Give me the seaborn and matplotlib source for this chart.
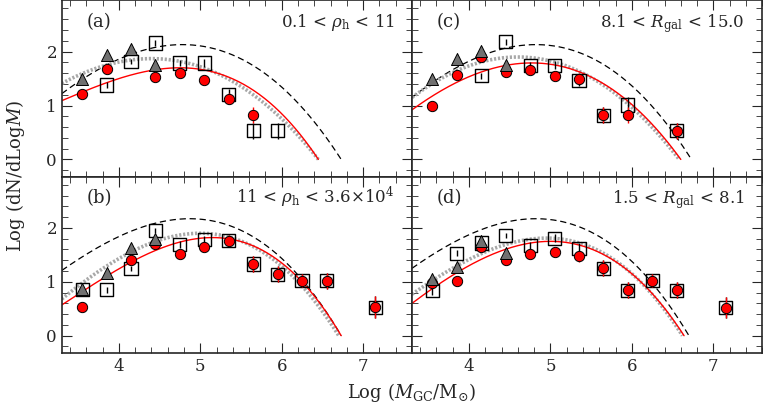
import matplotlib
matplotlib.use('Agg')
import matplotlib.pyplot as plt
from matplotlib.ticker import MultipleLocator
import numpy as np
import pandas as pd
import seaborn as sns

sns.set_style('ticks')
plt.rcParams['font.family'] = ['DejaVu Serif']
plt.rcParams['mathtext.fontset'] = 'dejavuserif'

# --- data ---
bins = [3.55, 3.85, 4.15, 4.45, 4.75, 5.05, 5.35, 5.65, 5.95, 6.25, 6.55, 7.15]
err = [0.08, 0.06, 0.05, 0.05, 0.06, 0.07, 0.10, 0.15, 0.15, 0.12, 0.15, 0.20]

labels = ['(a)', '(b)', '(c)', '(d)']
titles = [r'0.1 < $\rho_{\rm h}$ < 11', r'11 < $\rho_{\rm h}$ < 3.6$\times$10$^4$',
          r'8.1 < $R_{\rm gal}$ < 15.0', r'1.5 < $R_{\rm gal}$ < 8.1']

# red circles (None = no point)
red = [
    [1.22, 1.67, None, 1.52, 1.60, 1.47, 1.13, 0.82, None, None, None, None],
    [0.54, None, 1.40, 1.70, 1.51, 1.64, 1.76, 1.33, 1.14, 1.02, 1.02, 0.53],
    [1.00, 1.57, 1.90, 1.63, 1.66, 1.55, 1.50, 0.82, 0.82, None, 0.53, None],
    [0.97, 1.02, 1.65, 1.40, 1.51, 1.56, 1.47, 1.25, 0.84, 1.02, 0.84, 0.52],
]
tri = [
    [1.50, 1.94, 2.04, 1.75],
    [0.87, 1.17, 1.62, 1.79],
    [1.49, 1.86, 2.02, 1.75],
    [1.06, 1.28, 1.75, 1.53],
]
sq = [
    [None, 1.38, 1.82, 2.16, 1.79, 1.79, 1.20, 0.53, 0.53, None, None, None],
    [0.85, 0.85, 1.25, 1.95, 1.69, 1.78, 1.76, 1.33, 1.14, 1.02, 1.02, 0.53],
    [None, None, 1.55, 2.18, 1.75, 1.75, 1.47, 0.82, 1.01, None, 0.53, None],
    [0.84, 1.53, 1.72, 1.86, 1.67, 1.81, 1.62, 1.25, 0.84, 1.02, 0.84, 0.52],
]
# model curves: (peak x, peak y, y at x=3.3, x where y=0)
red_fit = [(4.75, 1.70, 1.09, 6.45), (5.15, 1.82, 0.57, 6.73),
           (4.77, 1.79, 0.92, 6.60), (5.00, 1.75, 0.60, 6.64)]
gray_fit = [(4.40, 1.87, 1.41, 6.45), (5.00, 1.90, 0.68, 6.70),
            (4.60, 1.90, 1.15, 6.58), (4.95, 1.81, 0.77, 6.62)]
dash_fit = [(4.78, 2.13, 1.22, 6.73), (4.87, 2.17, 1.21, 6.73),
            (4.82, 2.13, 1.15, 6.73), (4.82, 2.17, 1.25, 6.70)]

XMIN, XMAX = 3.3, 7.6


def curve(p):
    xp, yp, yl, x0 = p
    dl, dr = xp - XMIN, x0 - xp
    A = np.array([[dl**2, dl**3], [dr**2, -dr**3]])
    k, q = np.linalg.solve(A, [yp - yl, yp])
    x = np.linspace(XMIN, x0, 300)
    d = x - xp
    return x, yp - k * d**2 + q * d**3


def pts(vals, xs):
    return pd.DataFrame([(x, v) for x, v in zip(xs, vals) if v is not None],
                        columns=['x', 'y'])


fig, axes = plt.subplots(2, 2, figsize=(7.63, 4.08), dpi=100, sharex=True, sharey=True)
fig.subplots_adjust(left=0.081, right=0.999, top=0.999, bottom=0.135, wspace=0, hspace=0)
order = [0, 2, 1, 3]  # a,c top; b,d bottom

for i, ax in zip(order, axes.flat):
    for p, kw in [(dash_fit[i], dict(color='black', ls=(0, (5, 3)), lw=0.9)),
                  (gray_fit[i], dict(color='#a8a8a8', ls=(0, (0.6, 0.5)), lw=2.6)),
                  (red_fit[i], dict(color='red', ls='-', lw=1.0))]:
        cx, cy = curve(p)
        sns.lineplot(x=cx, y=cy, ax=ax, sort=False, **kw)

    s = pts(sq[i], bins)
    es = [err[bins.index(x)] for x in s.x]
    ax.errorbar(s.x, s.y, yerr=es, fmt='none', ecolor='black', elinewidth=1, zorder=3)
    sns.scatterplot(data=s, x='x', y='y', ax=ax, marker='s', s=90, facecolor='none',
                    edgecolor='black', linewidth=1.0, zorder=3)

    r = pts(red[i], bins)
    er = [err[bins.index(x)] for x in r.x]
    ax.errorbar(r.x, r.y, yerr=er, fmt='none', ecolor='red', elinewidth=1, zorder=4)
    sns.scatterplot(data=r, x='x', y='y', ax=ax, marker='o', s=55, color='red',
                    edgecolor='black', linewidth=0.7, zorder=4)

    t = pts(tri[i], bins[:4])
    sns.scatterplot(data=t, x='x', y='y', ax=ax, marker='^', s=75, color='#707070',
                    edgecolor='black', linewidth=0.7, zorder=5)

    ax.text(0.07, 0.85, labels[i], transform=ax.transAxes, fontsize=13)
    ax.text(0.95, 0.85, titles[i], transform=ax.transAxes, fontsize=12, ha='right')

    ax.set_xlim(XMIN, XMAX)
    ax.set_ylim(-0.32, 2.95)
    ax.xaxis.set_major_locator(MultipleLocator(1))
    ax.xaxis.set_minor_locator(MultipleLocator(0.2))
    ax.yaxis.set_major_locator(MultipleLocator(1))
    ax.yaxis.set_minor_locator(MultipleLocator(0.2))
    ax.tick_params(which='both', direction='in', top=True, right=True, labelsize=12)
    ax.tick_params(which='major', length=7)
    ax.tick_params(which='minor', length=4)
    ax.set_xlabel('')
    ax.set_ylabel('')
    for sp in ax.spines.values():
        sp.set_linewidth(1.2)

fig.supxlabel(r'Log ($M_{\rm GC}$/M$_{\odot}$)', x=0.54, y=0.01, fontsize=13)
fig.supylabel(r'Log (dN/dLog$M$)', x=0.005, y=0.57, fontsize=13)
fig.savefig('out.png', dpi=100)
